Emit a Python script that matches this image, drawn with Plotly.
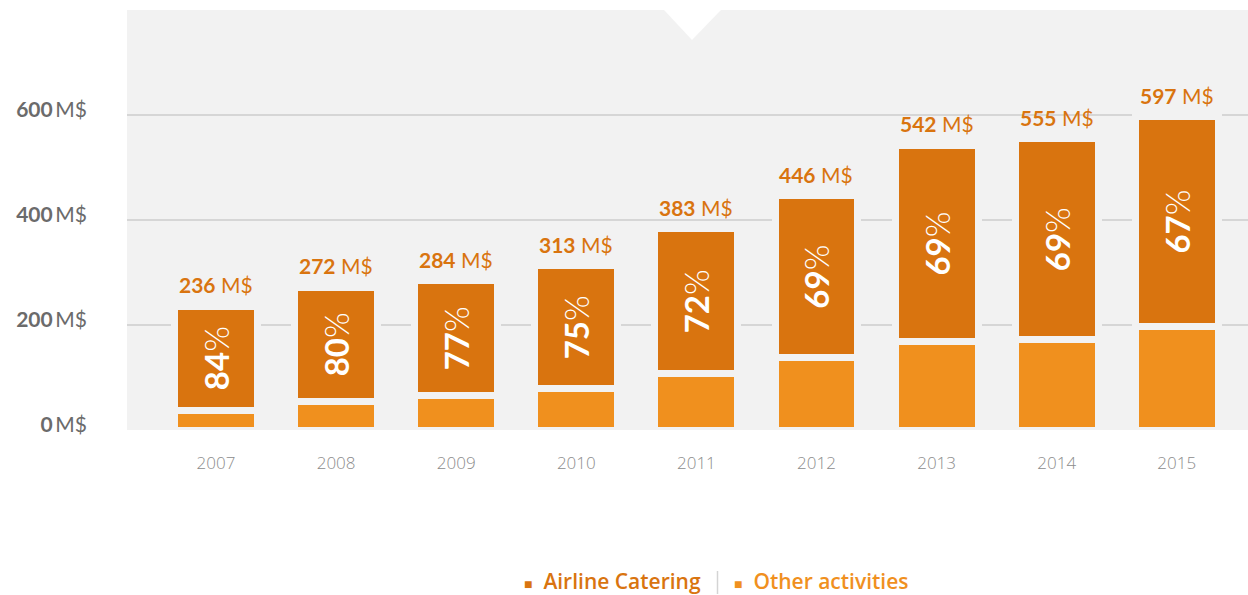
import plotly.graph_objects as go

# Revenue by year (M$) and the share coming from airline catering (%)
years = ["2007", "2008", "2009", "2010", "2011", "2012", "2013", "2014", "2015"]
totals = [236, 272, 284, 313, 383, 446, 542, 555, 597]
airline_pct = [84, 80, 77, 75, 72, 69, 69, 69, 67]

y_ticks = [0, 200, 400, 600]

AIRLINE = "#d9740f"
OTHER = "#f0901e"
PANEL = "#f2f2f2"

airline = [t * p / 100 for t, p in zip(totals, airline_pct)]
other = [t - a for t, a in zip(totals, airline)]
xs = list(range(len(years)))

W, H = 1248, 595
M_L, M_R, M_T, M_B = 127, 0, 10, 165
PW = W - M_L - M_R
PH = H - M_T - M_B


def px_x(p):
    return (p - M_L) / PW


def px_y(p):
    return (H - M_B - p) / PH


fig = go.Figure()

bar_width = 0.69
gap_line = dict(color=PANEL, width=7)

fig.add_trace(go.Bar(
    x=xs, y=other, name="Other activities", width=bar_width,
    marker=dict(color=OTHER, line=gap_line),
    hoverinfo="skip", showlegend=False,
))
fig.add_trace(go.Bar(
    x=xs, y=airline, name="Airline Catering", width=bar_width,
    marker=dict(color=AIRLINE, line=gap_line),
    text=[f"<b>{p}</b>%" for p in airline_pct],
    textposition="inside", insidetextanchor="middle", textangle=-90,
    insidetextfont=dict(family="Lato", size=33, color="white", weight=300),
    constraintext="none",
    hoverinfo="skip", showlegend=False,
))

annotations = []
# Totals above each stacked bar
for x, t in zip(xs, totals):
    annotations.append(dict(
        x=x, y=t, xref="x", yref="y", text=f"<b>{t}</b> M$",
        showarrow=False, yanchor="bottom", yshift=7,
        font=dict(family="Lato", size=21, color=AIRLINE),
    ))

# Legend row at the bottom
leg_y = px_y(581)
annotations += [
    dict(x=px_x(703), y=leg_y, xref="paper", yref="paper", xanchor="right", yanchor="middle",
         showarrow=False,
         text="<span style='font-size:14px'>■</span>  Airline Catering",
         font=dict(family="Open Sans", size=21, color=AIRLINE, weight=600)),
    dict(x=px_x(732), y=leg_y, xref="paper", yref="paper", xanchor="left", yanchor="middle",
         showarrow=False,
         text="<span style='font-size:14px'>■</span>  Other activities",
         font=dict(family="Open Sans", size=21, color=OTHER, weight=600)),
]

shapes = [
    # Notch at the top of the panel
    dict(type="path", xref="paper", yref="paper", layer="above",
         path=f"M {px_x(664)} 1 L {px_x(692)} {px_y(40)} L {px_x(721)} 1 Z",
         fillcolor="white", line=dict(width=0)),
    # Divider between the two legend entries
    dict(type="line", xref="paper", yref="paper",
         x0=px_x(717.5), x1=px_x(717.5), y0=px_y(571), y1=px_y(594),
         line=dict(color="#d4d4d4", width=1.5)),
]

fig.update_layout(
    width=W, height=H,
    margin=dict(l=M_L, r=M_R, t=M_T, b=M_B, pad=0),
    paper_bgcolor="white", plot_bgcolor=PANEL,
    barmode="stack", bargap=0.3,
    annotations=annotations, shapes=shapes,
    xaxis=dict(
        range=[-0.741, 8.593], tickvals=xs, ticktext=years,
        showgrid=False, zeroline=False, showline=False, ticks="",
        ticklabelstandoff=21,
        tickfont=dict(family="Open Sans", size=17, color="#8c8c8c", weight=300),
        fixedrange=True,
    ),
    yaxis=dict(
        range=[0, 800], tickvals=y_ticks,
        ticktext=[f"<b>{v}</b>\u2009M$" for v in y_ticks],
        showgrid=True, gridcolor="#d6d6d6", gridwidth=1.5,
        zeroline=False, showline=False, ticks="",
        ticklabelstandoff=39, ticklabelshift=-5,
        tickfont=dict(family="Lato", size=21, color="#6b6b6b"),
        fixedrange=True,
    ),
    font=dict(family="Lato"),
)

fig.write_html("out.html", config={"displayModeBar": False})
